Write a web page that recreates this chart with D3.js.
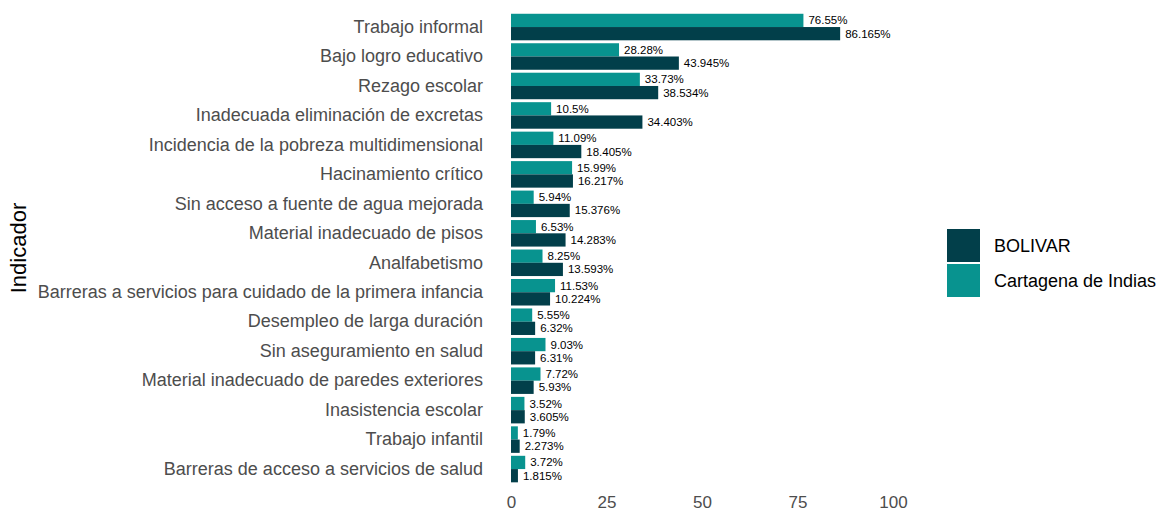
<!DOCTYPE html>
<html>
<head>
<meta charset="utf-8">
<script src="https://cdn.jsdelivr.net/npm/d3@7"></script>
<style>
  body { margin: 0; background: #fff; }
  svg { font-family: "Liberation Sans", Arial, sans-serif; }
</style>
</head>
<body>
<div id="chart"></div>
<script>
// categories, top to bottom
var indicadores = [
    "Trabajo informal",
    "Bajo logro educativo",
    "Rezago escolar",
    "Inadecuada eliminación de excretas",
    "Incidencia de la pobreza multidimensional",
    "Hacinamiento crítico",
    "Sin acceso a fuente de agua mejorada",
    "Material inadecuado de pisos",
    "Analfabetismo",
    "Barreras a servicios para cuidado de la primera infancia",
    "Desempleo de larga duración",
    "Sin aseguramiento en salud",
    "Material inadecuado de paredes exteriores",
    "Inasistencia escolar",
    "Trabajo infantil",
    "Barreras de acceso a servicios de salud"
];
var bolivar = [86.165, 43.945, 38.534, 34.403, 18.405, 16.217, 15.376, 14.283, 13.593, 10.224, 6.32, 6.31, 5.93, 3.605, 2.273, 1.815];
var cartagena = [76.55, 28.28, 33.73, 10.5, 11.09, 15.99, 5.94, 6.53, 8.25, 11.53, 5.55, 9.03, 7.72, 3.52, 1.79, 3.72];
var series = ["Cartagena de Indias", "BOLIVAR"];
var xTicks = [0, 25, 50, 75, 100];

var colors = { "BOLIVAR": "#023f4a", "Cartagena de Indias": "#08938f" };

var width = 1156, height = 512;

var svg = d3.select("#chart").append("svg")
    .attr("width", width)
    .attr("height", height);

var x = d3.scaleLinear().domain([0, 100]).range([511, 893]);

var y = d3.scaleBand()
    .domain(indicadores)
    .range([12.3, 483.8])
    .paddingInner(0.1)
    .paddingOuter(0.05);

var ySub = d3.scaleBand()
    .domain(series)
    .range([0, y.bandwidth()]);

var rows = indicadores.map(function (d, i) {
    return {
        name: d,
        values: [
            { serie: "Cartagena de Indias", value: cartagena[i] },
            { serie: "BOLIVAR", value: bolivar[i] }
        ]
    };
});

var groups = svg.selectAll(".row")
    .data(rows)
    .enter().append("g")
    .attr("class", "row")
    .attr("transform", function (d) { return "translate(0," + y(d.name) + ")"; });

groups.selectAll("rect")
    .data(function (d) { return d.values; })
    .enter().append("rect")
    .attr("x", x(0))
    .attr("y", function (d) { return ySub(d.serie); })
    .attr("width", function (d) { return x(d.value) - x(0); })
    .attr("height", ySub.bandwidth())
    .style("fill", function (d) { return colors[d.serie]; });

groups.selectAll("text.val")
    .data(function (d) { return d.values; })
    .enter().append("text")
    .attr("class", "val")
    .attr("x", function (d) { return x(d.value) + 5; })
    .attr("y", function (d) { return ySub(d.serie) + ySub.bandwidth() / 2; })
    .attr("dy", "0.35em")
    .style("font-size", "11.5px")
    .style("fill", "#000")
    .text(function (d) { return d.value + "%"; });

// y axis labels
var yAxis = d3.axisLeft(y).tickSize(0).tickPadding(0);
var gy = svg.append("g")
    .attr("transform", "translate(483,0)")
    .call(yAxis);
gy.select(".domain").remove();
gy.selectAll("text")
    .style("font-size", "18px")
    .style("fill", "#4d4d4d")
    .attr("font-family", null);

// x axis
var xAxis = d3.axisBottom(x).tickValues(xTicks).tickSize(0).tickPadding(0);
var gx = svg.append("g")
    .attr("transform", "translate(0,495.5)")
    .call(xAxis);
gx.select(".domain").remove();
gx.selectAll("text")
    .style("font-size", "17px")
    .style("fill", "#4d4d4d")
    .attr("font-family", null);

// axis title
svg.append("text")
    .attr("transform", "translate(26,248) rotate(-90)")
    .attr("text-anchor", "middle")
    .style("font-size", "22px")
    .style("fill", "#000")
    .text("Indicador");

// legend
var legendItems = ["BOLIVAR", "Cartagena de Indias"];
var legend = svg.append("g")
    .attr("transform", "translate(947,229)");

legend.selectAll("rect")
    .data(legendItems)
    .enter().append("rect")
    .attr("x", 0)
    .attr("y", function (d, i) { return i * 35; })
    .attr("width", 33)
    .attr("height", 33)
    .style("fill", function (d) { return colors[d]; });

legend.selectAll("text")
    .data(legendItems)
    .enter().append("text")
    .attr("x", 47)
    .attr("y", function (d, i) { return i * 35 + 16.5; })
    .attr("dy", "0.35em")
    .style("font-size", "18px")
    .style("fill", "#000")
    .text(function (d) { return d; });
</script>
</body>
</html>
